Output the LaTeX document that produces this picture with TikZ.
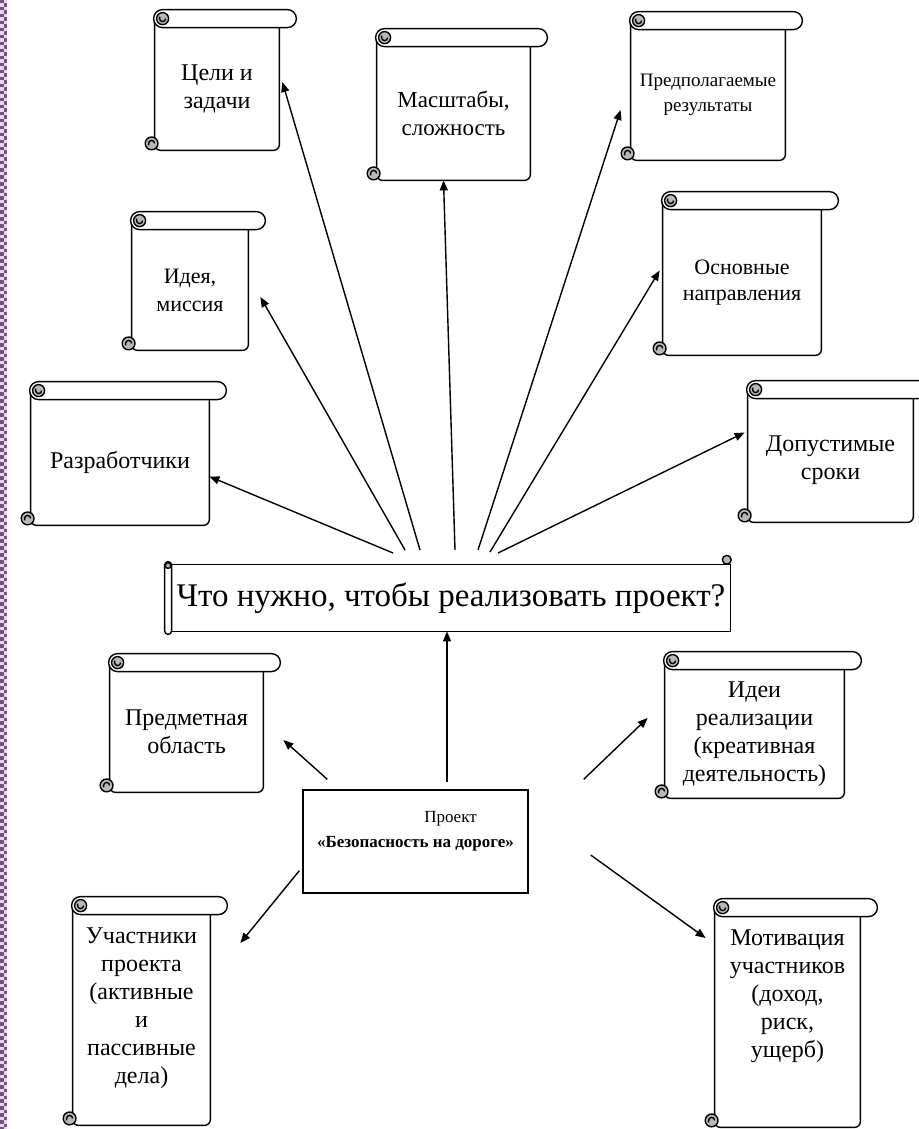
\documentclass[tikz,border=0pt]{standalone}
\usepackage{fontspec}
\setmainfont{Liberation Serif}
\usetikzlibrary{arrows.meta}

\definecolor{borderdark}{HTML}{6E5678}
\definecolor{borderlight}{HTML}{EFD3F5}
\definecolor{curlgray}{gray}{0.72}

\tikzset{
  outline/.style={line width=0.7pt, draw=black},
  link/.style={line width=0.7pt, -{Triangle[length=5pt,width=4pt]}},
  scroll/.style={align=center, inner sep=0pt, font=\fontsize{12}{14}\selectfont,
    append after command={\pgfextra{
      \draw[outline, rounded corners=3pt] ([yshift=4.5pt]\tikzlastnode.north west) -- (\tikzlastnode.south west)
        -- (\tikzlastnode.south east) -- (\tikzlastnode.north east);
      \draw[outline, fill=white, rounded corners=4.5pt] ([xshift=-0.5pt]\tikzlastnode.north west)
        rectangle ([shift={(8.5pt,9pt)}]\tikzlastnode.north east);
      \draw[outline, fill=curlgray] ([shift={(4pt,4.5pt)}]\tikzlastnode.north west) circle (3pt);
      \draw[outline] ([shift={(5.5pt,4.5pt)}]\tikzlastnode.north west) arc (0:-180:1.5pt) -- ++(0,1pt);
      \draw[outline, fill=curlgray] ([shift={(-1.5pt,3.5pt)}]\tikzlastnode.south west) circle (3.2pt);
      \draw[outline] ([shift={(0pt,3.5pt)}]\tikzlastnode.south west) arc (0:180:1.5pt) -- ++(0,-1pt);
    }}},
  hscroll/.style={inner sep=0pt, font=\fontsize{16.5}{20}\selectfont,
    append after command={\pgfextra{
      \draw[outline] (\tikzlastnode.north west) rectangle (\tikzlastnode.south east);
      \draw[outline, fill=white, rounded corners=1.75pt] ([shift={(-3.5pt,1.5pt)}]\tikzlastnode.north west)
        rectangle ([yshift=-1.5pt]\tikzlastnode.south west);
      \draw[outline, fill=curlgray] ([shift={(-1.75pt,-0.5pt)}]\tikzlastnode.north west) circle (1.4pt);
      \draw[outline, fill=curlgray] ([shift={(-1.8pt,2.4pt)}]\tikzlastnode.north east) circle (2.2pt);
    }}},
  box/.style={draw, line width=0.7pt, inner sep=0pt, align=center, font=\fontsize{8.5}{12.5}\selectfont},
}

\begin{document}
\begin{tikzpicture}[x=0.5pt, y=-0.5pt]
\useasboundingbox (0,0) rectangle (918,1129);

% patterned strip on the left
\fill[borderlight] (0,0) rectangle (7,1129);
\draw[borderdark, line width=1.75pt, dash pattern=on 1.75pt off 1.75pt] (1.75,0) -- (1.75,1129);
\draw[borderdark, line width=1.75pt, dash pattern=on 1.75pt off 1.75pt, dash phase=1.75pt] (5.25,0) -- (5.25,1129);

% scrolls
\node[scroll, minimum width=62pt, minimum height=61pt] (goals) at (217,89) {Цели и\\задачи};
\node[scroll, minimum width=76.5pt, minimum height=66.5pt, font=\fontsize{11.5}{14}\selectfont] (scale) at (453.5,113.5) {Масштабы,\\сложность};
\node[scroll, minimum width=77pt, minimum height=65pt, font=\fontsize{9.5}{12.5}\selectfont] (results) at (708,95) {Предполагаемые\\результаты};
\node[scroll, minimum width=58pt, minimum height=60pt, font=\fontsize{11}{14}\selectfont] (mission) at (190,290) {Идея,\\миссия};
\node[scroll, minimum width=79pt, minimum height=72.5pt, font=\fontsize{11}{13}\selectfont] (directions) at (742,282.5) {Основные\\направления};
\node[scroll, minimum width=89pt, minimum height=62.5pt] (developers) at (120,462.5) {Разработчики};
\node[scroll, minimum width=82.5pt, minimum height=61.5pt] (terms) at (830.5,460.5) {Допустимые\\сроки};

\node[hscroll, minimum width=279pt, minimum height=33pt] (question) at (451,598) {Что нужно, чтобы реализовать проект?};

\node[scroll, minimum width=76.5pt, minimum height=60pt] (subject) at (186.5,732) {Предметная\\область};
\node[scroll, minimum width=89.5pt, minimum height=64pt] (ideas) at (754.5,734) {Идеи\\реализации\\(креативная\\деятельность)};
\node[box, minimum width=112.5pt, minimum height=51.5pt] (project) at (415.5,841.5) {\hspace*{35pt}Проект\\\textbf{«Безопасность на дороге»}\\\mbox{}};
\node[scroll, minimum width=68.5pt, minimum height=105pt] (members) at (141.5,1020) {Участники\\проекта\\(активные\\и\\пассивные\\дела)\\\mbox{}};
\node[scroll, minimum width=72.5pt, minimum height=105pt] (motivation) at (787.5,1022) {Мотивация\\участников\\(доход,\\риск,\\ущерб)\\\mbox{}\\\mbox{}};

% fan of arrows above the question
\coordinate (f1) at (393,553);
\coordinate (f2) at (405,550);
\coordinate (f3) at (420,550);
\coordinate (f4) at (455,550);
\coordinate (f5) at (478,550);
\coordinate (f6) at (490,552);
\coordinate (f7) at (498,553);
\path[draw,link] (f1) -- ([yshift=-7pt]developers.east);
\path[draw,link] (f2) -- ([shift={(6pt,-3.5pt)}]mission.east);
\path[draw,link] (f3) -- ([shift={(1.5pt,3.5pt)}]goals.east);
\path[draw,link] (f4) -- ([xshift=-5pt]scale.south);
\path[draw,link] (f5) -- ([shift={(-5pt,-7.5pt)}]results.west);
\path[draw,link] (f6) -- ([shift={(-1.5pt,6pt)}]directions.west);
\path[draw,link] (f7) -- ([shift={(-1.5pt,14pt)}]terms.west);

% arrows around the project
\path[draw,link] ([shift={(15.75pt,3.5pt)}]project.north) -- ([xshift=-2pt]question.south);
\path[draw,link] ([shift={(12.5pt,5pt)}]project.north west) -- ([shift={(10pt,-4pt)}]subject.east);
\path[draw,link] ([shift={(27.5pt,5pt)}]project.north east) -- ([shift={(-8.5pt,8pt)}]ideas.west);
\path[draw,link] ([shift={(-1.5pt,11.5pt)}]project.south west) -- ([shift={(15pt,38.5pt)}]members.east);
\path[draw,link] ([shift={(31pt,-6.75pt)}]project.east) -- ([shift={(-4.5pt,42pt)}]motivation.west);
\end{tikzpicture}
\end{document}
